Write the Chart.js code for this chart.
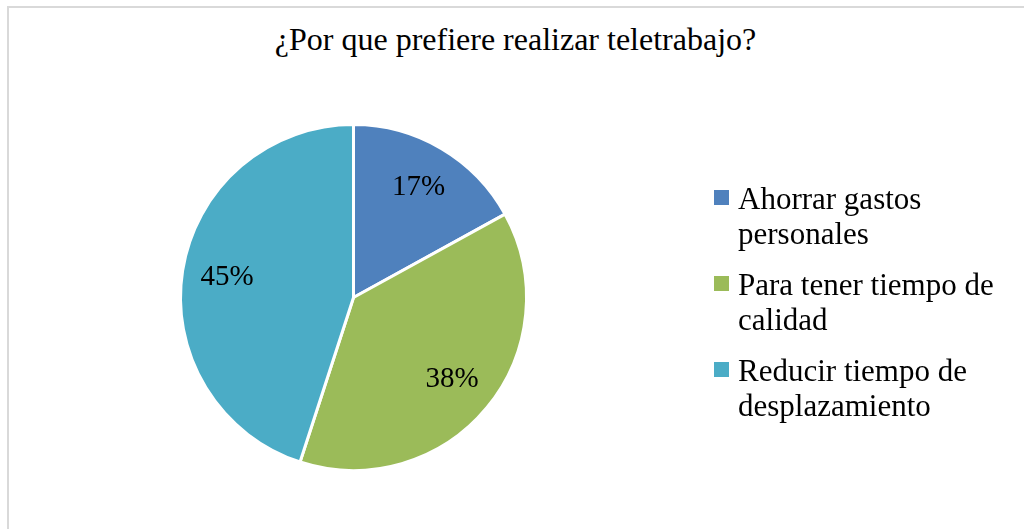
<!DOCTYPE html>
<html>
<head>
<meta charset="utf-8">
<script src="https://cdn.jsdelivr.net/npm/chart.js@4"></script>
<style>
  html, body { margin: 0; padding: 0; background: #fff; }
  body { width: 1024px; height: 529px; position: relative; overflow: hidden; font-family: "Liberation Serif", "Times New Roman", serif; color: #000; }
  .frame { position: absolute; left: 7px; top: 6px; width: 1100px; height: 600px; border-left: 2px solid #d9d9d9; border-top: 2px solid #d9d9d9; }
  .title { position: absolute; left: 7px; right: 0; top: 21px; text-align: center; font-size: 32px; }
  #chart { position: absolute; left: 0; top: 0; }
  .legend { position: absolute; left: 714px; top: 181px; font-size: 31px; line-height: 35px; }
  .legend .item { display: flex; align-items: flex-start; margin-bottom: 16px; }
  .legend .box { width: 15px; height: 15px; margin-top: 9px; margin-right: 9px; flex: none; }
</style>
</head>
<body>
<div class="frame"></div>
<div class="title" id="title"></div>
<canvas id="chart" width="1024" height="529"></canvas>
<div class="legend" id="legend"></div>
<script>
const chartTitle = '¿Por que prefiere realizar teletrabajo?'
const labels = [
    ['Ahorrar gastos', 'personales'],
    ['Para tener tiempo de', 'calidad'],
    ['Reducir tiempo de', 'desplazamiento']
]
const percents = [17, 38, 45]
const colors = ['#4f81bd', '#9bbb59', '#4bacc6']

document.getElementById('title').textContent = chartTitle

// legend in html so the labels can wrap on two lines
const legendEl = document.getElementById('legend')
labels.forEach((lines, i) => {
    const item = document.createElement('div')
    item.className = 'item'
    const box = document.createElement('span')
    box.className = 'box'
    box.style.background = colors[i]
    const text = document.createElement('span')
    text.innerHTML = lines.join('<br>')
    item.appendChild(box)
    item.appendChild(text)
    legendEl.appendChild(item)
})

const pieLabels = {
    id: 'pieLabels',
    afterDatasetsDraw(chart) {
        const ctx = chart.ctx
        const meta = chart.getDatasetMeta(0)
        ctx.save()
        ctx.font = '29px "Liberation Serif", "Times New Roman", serif'
        ctx.fillStyle = '#000'
        ctx.textAlign = 'center'
        ctx.textBaseline = 'middle'
        meta.data.forEach((arc, i) => {
            const mid = (arc.startAngle + arc.endAngle) / 2
            const r = arc.outerRadius * 0.74
            ctx.fillText(percents[i] + '%', arc.x + Math.cos(mid) * r, arc.y + Math.sin(mid) * r)
        })
        ctx.restore()
    }
}

new Chart(document.getElementById('chart'), {
    type: 'pie',
    data: {
        labels: labels,
        datasets: [{
            data: percents,
            backgroundColor: colors,
            borderColor: '#ffffff',
            borderWidth: 3
        }]
    },
    options: {
        responsive: false,
        animation: false,
        events: [],
        layout: { padding: { left: 179, right: 496, top: 123, bottom: 57 } },
        plugins: {
            legend: { display: false },
            title: { display: false },
            tooltip: { enabled: false }
        }
    },
    plugins: [pieLabels]
})
</script>
</body>
</html>
